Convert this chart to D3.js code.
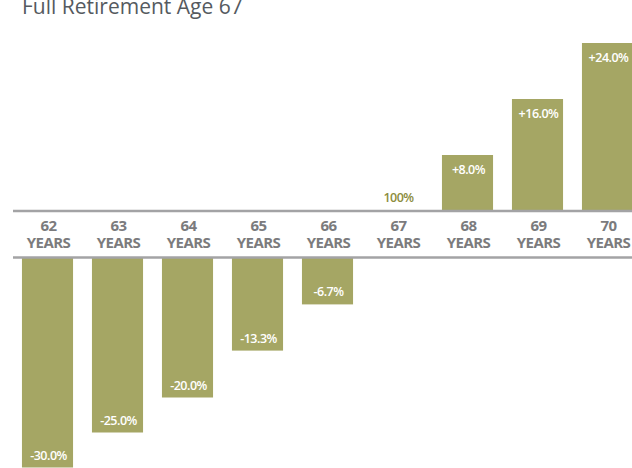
<!DOCTYPE html>
<html>
<head>
<meta charset="utf-8">
<script src="https://cdn.jsdelivr.net/npm/d3@7"></script>
<style>
  body { margin: 0; background: #fff; }
  svg { display: block; }
</style>
</head>
<body>
<div id="chart"></div>
<script>
var ages = ["62", "63", "64", "65", "66", "67", "68", "69", "70"]; // claiming age
var change = [-30.0, -25.0, -20.0, -13.3, -6.7, 0, 8.0, 16.0, 24.0]; // % change of benefit
var valueLabels = ["-30.0%", "-25.0%", "-20.0%", "-13.3%", "-6.7%", "100%", "+8.0%", "+16.0%", "+24.0%"];

function init(){
    var w = 632, h = 468;
    var topLine = 211;    // y of the upper gray rule
    var bottomLine = 257.5; // y of the lower gray rule
    var barColor = "#a5a664";

    var svg = d3.select("#chart").append("svg")
                .attr("width", w)
                .attr("height", h);

    var x = d3.scaleBand()
              .domain(ages)
              .range([12.5, 642.5])
              .paddingInner(0.27)
              .paddingOuter(0.135);

    // bar length from the rule, 7px per percent
    var len = d3.scaleLinear().domain([0, 30]).range([0, 210]);

    var rows = ages.map(function(a, i){
        return {age: a, v: change[i], label: valueLabels[i]};
    });

    svg.append("text")
        .attr("x", 22)
        .attr("y", 14)
        .attr("font-family", "Open Sans, sans-serif")
        .attr("font-size", 21)
        .attr("fill", "#555a60")
        .text("Full Retirement Age 67");

    var bars = svg.selectAll("g.bar")
                  .data(rows)
                  .enter()
                  .append("g")
                  .attr("class", "bar");

    bars.filter(function(d){ return d.v !== 0; })
        .append("rect")
        .attr("x", function(d){ return x(d.age); })
        .attr("width", x.bandwidth())
        .attr("y", function(d){ return d.v > 0 ? topLine - len(d.v) : bottomLine; })
        .attr("height", function(d){ return len(Math.abs(d.v)); })
        .attr("fill", barColor);

    bars.append("text")
        .attr("x", function(d){ return x(d.age) + x.bandwidth() / 2 + 1; })
        .attr("y", function(d){
            if (d.v > 0) return topLine - len(d.v) + 19;
            if (d.v < 0) return bottomLine + len(-d.v) - 8;
            return topLine - 9;
        })
        .attr("text-anchor", "middle")
        .attr("font-family", "Open Sans, sans-serif")
        .attr("font-weight", 600)
        .attr("font-size", 12.5)
        .attr("letter-spacing", -0.5)
        .attr("fill", function(d){ return d.v === 0 ? "#8c8c3c" : "#fff"; })
        .text(function(d){ return d.label; });

    // gray rules around the age labels
    [topLine, bottomLine].forEach(function(y){
        svg.append("line")
            .attr("x1", 13).attr("x2", w)
            .attr("y1", y).attr("y2", y)
            .attr("stroke", "#a3a3a5")
            .attr("stroke-width", 2.5);
    });

    var lab = svg.selectAll("text.age")
                 .data(rows)
                 .enter()
                 .append("text")
                 .attr("class", "age")
                 .attr("text-anchor", "middle")
                 .attr("font-family", "Open Sans, sans-serif")
                 .attr("font-weight", 700)
                 .attr("font-size", 15)
                 .attr("letter-spacing", -0.6)
                 .attr("fill", "#7b7b7d");
    lab.append("tspan")
        .attr("x", function(d){ return x(d.age) + x.bandwidth() / 2 + 1; })
        .attr("y", 231)
        .text(function(d){ return d.age; });
    lab.append("tspan")
        .attr("x", function(d){ return x(d.age) + x.bandwidth() / 2 + 1; })
        .attr("y", 248)
        .text("YEARS");
}
window.onload = init;
</script>
</body>
</html>
